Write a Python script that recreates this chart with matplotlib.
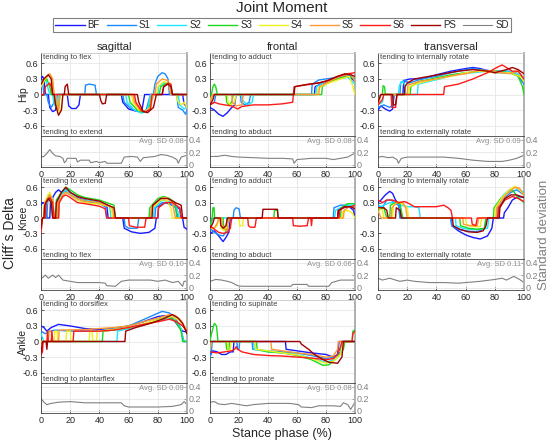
import matplotlib
matplotlib.use("Agg")
import matplotlib.pyplot as plt

plt.rcParams['font.family'] = ['Liberation Sans', 'DejaVu Sans']

# ---------------- data ----------------
series_names = ["BF", "S1", "S2", "S3", "S4", "S5", "S6", "PS"]
series_colors = ["#1a1aff", "#1a8cff", "#1ae6ff", "#1ad91a", "#f0f01a", "#ff9933", "#ff1a1a", "#a00000"]
sd_name = "SD"
sd_color = "#808080"

x_ticks = [0, 20, 40, 60, 80, 100]
x_tick_labels = ["0", "20", "40", "60", "80", "100"]
y_ticks = [-0.6, -0.3, 0, 0.3, 0.6]
y_tick_labels = ["-0.6", "-0.3", "0", "0.3", "0.6"]
sd_ticks = [0, 0.2, 0.4]
sd_tick_labels = ["0", "0.2", "0.4"]

row_names = ["Hip", "Knee", "Ankle"]
col_names = ["sagittal", "frontal", "transversal"]

hip_sag = {
    "BF": [(0,0.3),(1,0.35),(2,0.3),(3,0),(5,0),(6,-0.25),(8,-0.33),(10,-0.3),(11,0),(18,0),(19,-0.22),(21,-0.27),(24,-0.27),(26,-0.2),(27,0),(55,0),(56,-0.15),(60,-0.28),(65,-0.32),(69,-0.32),(71,0),(97,0),(98,-0.18),(100,-0.25)],
    "S1": [(0,0.22),(1,0.25),(2,0),(4,0),(5,-0.15),(7,-0.25),(9,-0.15),(10,0),(30,0),(30.5,0.18),(33,0.2),(37,0.18),(38,0),(56,0),(57,-0.15),(62,-0.28),(68,-0.34),(72,-0.3),(74,-0.1),(75,0),(77,0),(78,0.2),(80,0.35),(83,0.42),(85,0.4),(87,0.3),(88,0),(93,0),(94,-0.25),(97,-0.3),(99,-0.38),(100,-0.3)],
    "S2": [(0,0.25),(3,0.3),(5,0.1),(6,0),(8,0),(9,-0.2),(11,-0.25),(12,0),(58,0),(59,-0.15),(64,-0.3),(69,-0.36),(73,-0.3),(75,0),(80,0),(80.5,0.15),(84,0.22),(88,0.2),(89,0),(94,0),(95,-0.2),(98,-0.28),(100,-0.25)],
    "S3": [(0,0.2),(4,0.3),(6,0.15),(7,0),(9,0),(10,-0.2),(12,-0.28),(13,0),(60,0),(61,-0.15),(66,-0.3),(70,-0.34),(74,-0.28),(76,0),(81,0),(82,0.15),(86,0.22),(89,0.18),(90,0),(100,0)],
    "S4": [(0,0.15),(3,0.3),(6,0.4),(8,0.25),(9,0),(10,0),(11,-0.2),(13,-0.35),(14,-0.25),(15,0),(62,0),(63,-0.15),(67,-0.3),(71,-0.33),(75,-0.25),(76,0),(79,0),(80,0.15),(84,0.25),(88,0.22),(89,0),(93,0),(93.5,-0.12),(96,-0.2),(98,-0.15),(100,-0.25)],
    "S5": [(0,0.2),(3,0.33),(6,0.4),(8,0.3),(9,0),(10,0),(11,-0.2),(12,-0.3),(13,0),(63,0),(64,-0.15),(68,-0.3),(72,-0.33),(75,-0.25),(77,0),(78,0),(79,0.2),(83,0.3),(87,0.27),(89,0),(100,0)],
    "S6": [(0,0),(2,0),(3,0.15),(6,0.22),(7,0.15),(8,0),(64,0),(65,-0.15),(69,-0.32),(72,-0.33),(75,-0.28),(76,0),(83,0),(84,0.15),(87,0.22),(89,0.2),(90,0),(100,0)],
    "PS": [(0,0.2),(2,0.3),(5,0.38),(7,0.3),(8,0),(9,0),(10,-0.2),(12,-0.4),(14,-0.3),(15,0),(16,0),(16.5,0.15),(18,0.2),(19,0),(40,0),(41,-0.12),(42,-0.18),(44,-0.17),(45,0),(66,0),(67,-0.15),(70,-0.33),(73,-0.35),(77,-0.25),(79,0),(83,0),(84,0.15),(87,0.2),(89,0.15),(90,0),(100,0)],
}
hip_front = {
    "BF": [(0,-0.25),(3,-0.3),(6,-0.38),(9,-0.42),(12,-0.35),(15,-0.25),(17,-0.2),(18,0),(72,0),(72.5,0.15),(78,0.22),(85,0.28),(90,0.32),(95,0.35),(98,0.3),(100,0.25)],
    "S1": [(0,-0.2),(3,-0.15),(4,0),(21,0),(21.5,-0.15),(24,-0.2),(27,-0.15),(28,0),(70,0),(70.5,0.2),(75,0.28),(80,0.3),(85,0.32),(90,0.35),(95,0.38),(100,0.3)],
    "S2": [(0,-0.15),(2,0),(22,0),(22.5,-0.12),(26,-0.2),(29,-0.15),(30,0),(73,0),(73.5,0.15),(80,0.25),(88,0.3),(95,0.33),(100,0.2)],
    "S3": [(0,0),(1,0),(2,0.15),(3,0.2),(4,0.15),(5,0),(11,0),(11.5,-0.15),(13,-0.2),(15,-0.15),(16,0),(77,0),(77.5,0.15),(82,0.25),(90,0.32),(95,0.35),(100,0.3)],
    "S4": [(0,-0.1),(2,0),(12,0),(12.5,-0.15),(14,-0.2),(17,-0.15),(18,0),(74,0),(74.5,0.12),(80,0.2),(90,0.3),(96,0.35),(98,0.2),(100,0)],
    "S5": [(0,-0.15),(2,0),(15,0),(15.5,-0.15),(18,-0.22),(22,-0.2),(23,0),(75,0),(75.5,0.15),(82,0.25),(90,0.35),(97,0.4),(100,0.25)],
    "S6": [(0,-0.2),(3,-0.15),(6,-0.18),(10,-0.2),(15,-0.22),(19,-0.28),(22,-0.23),(30,-0.2),(40,-0.2),(50,-0.18),(57,-0.15),(58,0.15),(65,0.18),(70,0.2),(80,0.25),(88,0.35),(95,0.4),(100,0.42)],
    "PS": [(0,-0.2),(2,-0.1),(3,0),(58,0),(58.5,0.15),(62,0.17),(68,0.2),(75,0.22),(82,0.28),(88,0.35),(93,0.4),(97,0.38),(100,0.35)],
}
hip_trans = {
    "BF": [(0,-0.3),(2,-0.22),(5,-0.28),(8,-0.32),(10,-0.28),(11,0),(17,0),(17.5,0.2),(19,0.28),(22,0.3),(30,0.3),(40,0.38),(50,0.45),(60,0.5),(65,0.52),(70,0.5),(80,0.42),(90,0.42),(95,0.38),(100,0.25)],
    "S1": [(0,-0.25),(4,-0.2),(8,-0.25),(10,-0.2),(11,0),(15,0),(15.5,0.22),(18,0.28),(21,0.22),(30,0.3),(40,0.35),(50,0.42),(60,0.48),(65,0.5),(70,0.48),(80,0.45),(90,0.45),(95,0.38),(100,0.2)],
    "S2": [(0,-0.2),(3,-0.15),(4,0),(14,0),(14.5,0.15),(16,0.25),(18,0.22),(19,0),(27,0),(27.5,0.2),(35,0.25),(45,0.32),(55,0.4),(65,0.42),(75,0.45),(85,0.45),(95,0.42),(100,0.3)],
    "S3": [(0,-0.15),(2,0),(3,0),(3.5,0.17),(4.5,0.15),(5,0),(22,0),(22.5,0.15),(28,0.25),(40,0.32),(50,0.38),(60,0.42),(70,0.45),(80,0.45),(90,0.42),(96,0.35),(99,0.15),(100,0)],
    "S4": [(0,-0.18),(2,0),(21,0),(21.5,0.15),(28,0.22),(40,0.3),(50,0.35),(60,0.42),(70,0.45),(80,0.42),(90,0.42),(97,0.35),(100,0.25)],
    "S5": [(0,-0.2),(2,0),(20,0),(20.5,0.18),(28,0.25),(40,0.3),(50,0.36),(60,0.4),(70,0.47),(80,0.45),(90,0.4),(96,0.45),(100,0.3)],
    "S6": [(0,-0.2),(3,-0.1),(4,0),(9,0),(9.5,-0.25),(12,-0.25),(13,0),(45,0),(45.5,0.15),(55,0.2),(65,0.3),(75,0.42),(80,0.5),(85,0.57),(88,0.52),(92,0.45),(96,0.45),(100,0.3)],
    "PS": [(0,-0.15),(2,0),(10,0),(10.5,-0.2),(12,-0.2),(13,0),(18,0),(18.5,0.15),(20,0.22),(25,0.3),(35,0.35),(45,0.4),(55,0.45),(65,0.48),(75,0.45),(80,0.42),(88,0.48),(92,0.52),(96,0.48),(100,0.4)],
}
knee_sag = {
    "BF": [(0,0.25),(1,0.3),(3,0.3),(4,0),(6,0),(6.5,0.3),(8,0.4),(10,0.5),(12,0.55),(14,0.5),(17,0.58),(20,0.5),(25,0.4),(30,0.35),(40,0.3),(45,0.25),(46,0),(56,0),(57,-0.2),(62,-0.27),(68,-0.3),(74,-0.28),(78,-0.2),(79,0),(80,0),(80.5,0.22),(85,0.3),(90,0.25),(95,0.18),(96,0),(97,0),(98,-0.18),(100,-0.22)],
    "S1": [(0,0),(4,0),(4.5,0.3),(6,0.45),(8,0.4),(9,0),(12,0),(12.5,0.4),(15,0.5),(17,0.52),(20,0.45),(25,0.35),(30,0.32),(40,0.28),(44,0.22),(45,0),(57,0),(57.5,-0.15),(60,-0.2),(66,-0.2),(67,0),(78,0),(78.5,0.2),(83,0.3),(88,0.3),(92,0.2),(94,0),(100,0)],
    "S2": [(0,0),(3,0),(3.5,0.25),(6,0.4),(8,0.3),(9,0),(11,0),(11.5,0.35),(15,0.5),(17,0.55),(20,0.5),(25,0.38),(30,0.35),(40,0.3),(47,0.22),(48,0),(77,0),(77.5,0.2),(83,0.35),(88,0.32),(93,0.2),(95,0),(100,0)],
    "S3": [(0,0),(2,0),(2.5,0.25),(5,0.45),(7,0.35),(8,0),(10,0),(10.5,0.35),(14,0.5),(17,0.6),(20,0.55),(25,0.45),(30,0.4),(40,0.35),(50,0.25),(51,0),(74,0),(74.5,0.2),(80,0.38),(84,0.42),(88,0.38),(92,0.3),(93,0),(100,0)],
    "S4": [(0,0),(2,0),(2.5,0.3),(5,0.45),(6,0.5),(8,0.35),(9,0),(12,0),(12.5,0.3),(15,0.45),(17,0.5),(20,0.45),(25,0.35),(30,0.3),(40,0.27),(48,0.22),(49,0),(76,0),(76.5,0.2),(82,0.35),(86,0.35),(89,0.2),(90,0),(100,0)],
    "S5": [(0,0),(2,0),(2.5,0.3),(6,0.45),(8,0.35),(9,0),(11,0),(11.5,0.3),(15,0.45),(17,0.5),(20,0.45),(25,0.38),(30,0.33),(40,0.3),(49,0.2),(50,0),(75,0),(75.5,0.2),(82,0.38),(86,0.4),(90,0.3),(92,0),(100,0)],
    "S6": [(0,-0.3),(1,0),(3,0),(3.5,0.3),(6,0.4),(8,0.3),(9,0),(12,0),(12.5,0.3),(15,0.42),(17,0.45),(20,0.4),(25,0.3),(30,0.28),(40,0.23),(44,0.18),(45,0),(60,0),(60.5,-0.15),(65,-0.18),(71,-0.18),(72,0),(80,0),(80.5,0.2),(85,0.3),(90,0.3),(95,0.2),(96,0),(100,0)],
    "PS": [(0,-0.2),(1,0),(2,0),(2.5,0.25),(5,0.38),(7,0.3),(8,0),(10,0),(10.5,0.3),(14,0.5),(17,0.6),(20,0.5),(25,0.42),(30,0.38),(40,0.33),(46,0.25),(50,0.2),(51,0),(76,0),(76.5,0.25),(82,0.38),(87,0.38),(92,0.3),(96,0.25),(97,0),(100,0)],
}
knee_front = {
    "BF": [(0,-0.3),(3,-0.25),(6,-0.35),(9,-0.46),(11,-0.38),(13,-0.28),(14,0),(88,0),(88.5,0.15),(92,0.2),(96,0.22),(99,0.15),(100,0)],
    "S1": [(0,-0.2),(3,-0.28),(6,-0.33),(9,-0.35),(11,-0.28),(12,0),(16,0),(16.5,0.15),(18,0.2),(20,0.18),(21,0),(85,0),(85.5,0.2),(90,0.25),(95,0.25),(100,0.2)],
    "S2": [(0,-0.2),(2,0),(86,0),(86.5,0.15),(90,0.2),(95,0.25),(100,0.25)],
    "S3": [(0,-0.15),(1.5,0),(2,0.2),(2.8,0.2),(3.2,0),(9,0),(9.5,-0.2),(11,-0.25),(12,0),(44,0),(44.5,0.15),(46.5,0.15),(47,0),(90,0),(90.5,0.2),(95,0.28),(100,0.28)],
    "S4": [(0,-0.2),(3,-0.2),(5,-0.15),(6,0),(7,0),(7.5,-0.2),(10,-0.25),(12,-0.15),(13,0),(20,0),(20.5,-0.15),(22.5,-0.15),(23,0),(91,0),(91.5,0.12),(95,0.15),(98,0.1),(100,0)],
    "S5": [(0,-0.18),(3,-0.2),(5,-0.1),(6,0),(8,0),(8.5,-0.15),(10,-0.2),(12,-0.25),(13,0),(92,0),(92.5,0.15),(96,0.22),(100,0.2)],
    "S6": [(0,-0.15),(3,-0.22),(6,-0.28),(9,-0.3),(12,-0.28),(14,-0.2),(15,0),(26,0),(26.5,-0.15),(28,-0.18),(31,-0.18),(32,0),(57,0),(57.5,-0.15),(62,-0.16),(67,-0.15),(68,0),(69.5,0),(70,-0.15),(70.5,0),(89,0),(89.5,0.15),(93,0.22),(97,0.22),(100,0.25)],
    "PS": [(0,-0.2),(2,-0.1),(3,0),(7,0),(7.5,-0.15),(9,-0.2),(11,-0.15),(12,0),(36,0),(36.5,0.17),(44,0.17),(46.5,0.17),(47,0),(88,0),(88.5,0.15),(93,0.22),(97,0.22),(100,0.18)],
}
knee_trans = {
    "BF": [(0,0.3),(2,0.35),(5,0.45),(8,0.52),(10,0.48),(12,0.35),(15,0.25),(16,0),(50,0),(50.5,-0.15),(55,-0.25),(60,-0.33),(65,-0.38),(70,-0.41),(75,-0.35),(78,-0.2),(79,0),(86,0),(86.5,0.1),(89,0.2),(92,0.35),(96,0.42),(100,0.4)],
    "S1": [(0,0.25),(3,0.2),(6,0.35),(9,0.35),(12,0.28),(14,0.25),(15,0),(50,0),(50.5,-0.15),(55,-0.22),(60,-0.25),(66,-0.27),(70,-0.25),(73,-0.2),(74,0),(82,0),(82.5,0.2),(87,0.4),(91,0.5),(95,0.55),(100,0.45)],
    "S2": [(0,0.2),(4,0.25),(8,0.3),(12,0.3),(16,0.25),(20,0.22),(25,0.22),(28,0.2),(29,0),(53,0),(53.5,-0.15),(58,-0.2),(65,-0.23),(70,-0.22),(75,-0.2),(76,0),(81,0),(81.5,0.25),(86,0.45),(90,0.55),(94,0.6),(100,0.5)],
    "S3": [(0,0.15),(4,0.2),(6,0),(8,0),(8.5,0.25),(12,0.3),(15,0.28),(17,0),(56,0),(56.5,-0.15),(62,-0.2),(68,-0.22),(73,-0.2),(74,0),(79,0),(79.5,0.2),(84,0.38),(88,0.48),(92,0.55),(96,0.4),(100,0.3)],
    "S4": [(0,0.2),(3,0.15),(4,0),(10,0),(10.5,0.25),(14,0.32),(18,0.25),(20,0.2),(21,0),(60,0),(60.5,-0.12),(65,-0.17),(70,-0.17),(71,0),(80,0),(80.5,0.2),(85,0.4),(90,0.55),(94,0.62),(97,0.55),(100,0.45)],
    "S5": [(0,0.15),(2,0),(9,0),(9.5,0.2),(13,0.3),(17,0.3),(19,0.2),(20,0),(58,0),(58.5,-0.12),(62,-0.15),(68,-0.15),(69,0),(81,0),(81.5,0.2),(86,0.4),(90,0.52),(94,0.6),(97,0.58),(100,0.45)],
    "S6": [(0,0.35),(3,0.3),(6,0.35),(10,0.35),(14,0.3),(18,0.32),(20,0.3),(25,0.22),(35,0.22),(40,0.22),(45,0.25),(48,0.2),(50,0.15),(51,0),(64,0),(64.5,-0.12),(67,-0.15),(68,0),(82,0),(82.5,0.2),(87,0.35),(92,0.42),(96,0.38),(100,0.32)],
    "PS": [(0,0.2),(4,0.2),(6,0.15),(7,0),(12,0),(12.5,0.2),(15,0.15),(16,0),(51,0),(51.5,-0.15),(56,-0.22),(62,-0.27),(68,-0.28),(72,-0.25),(74,-0.15),(75,0),(83,0),(83.5,0.2),(87,0.38),(91,0.45),(95,0.45),(100,0.4)],
}
ankle_sag = {
    "BF": [(0,0.3),(2,0.27),(4,0.2),(7,0.27),(12,0.33),(20,0.3),(30,0.25),(40,0.23),(50,0.25),(60,0.3),(70,0.38),(80,0.48),(85,0.5),(90,0.45),(94,0.3),(97,0.2),(100,0.18)],
    "S1": [(0,0.2),(3,0.15),(6,0.2),(10,0.22),(20,0.2),(30,0.2),(40,0.2),(50,0.25),(60,0.3),(70,0.42),(78,0.52),(83,0.58),(88,0.55),(92,0.45),(95,0.3),(97,0.1),(98,0),(100,0)],
    "S2": [(0,0.15),(2,0),(52,0),(52.5,0.2),(60,0.25),(70,0.32),(80,0.4),(88,0.45),(92,0.4),(96,0.25),(97.5,0),(100,0)],
    "S3": [(0,0),(42,0),(42.5,0.2),(50,0.22),(60,0.27),(70,0.33),(80,0.42),(87,0.48),(92,0.4),(96,0.2),(97,0),(100,0)],
    "S4": [(0,0),(9,0),(9.5,0.2),(11,0.2),(11.5,0),(17,0),(17.5,0.2),(20,0.2),(20.5,0),(33,0),(33.5,0.2),(35,0.2),(35.5,0),(38,0),(38.5,0.2),(45,0.22),(55,0.25),(65,0.3),(75,0.38),(85,0.45),(90,0.48),(95,0.4),(98,0.3),(100,0.2)],
    "S5": [(0,-0.1),(1,0),(5,0),(5.5,0.2),(7,0.2),(7.5,0),(12,0),(12.5,0.22),(30,0.23),(40,0.25),(50,0.27),(60,0.3),(70,0.38),(80,0.45),(88,0.52),(92,0.5),(96,0.4),(100,0.2)],
    "S6": [(0,-0.25),(1,-0.2),(1.5,0),(4,0),(4.5,0.2),(5,0),(7,0),(7.5,0.2),(8,0),(22,0),(22.5,0.2),(30,0.2),(40,0.2),(50,0.22),(60,0.27),(70,0.33),(80,0.38),(88,0.43),(93,0.38),(97,0.3),(100,0.2)],
    "PS": [(0,-0.25),(1,0),(3.5,0),(4,-0.15),(4.5,0),(57.5,0),(58,0.2),(65,0.27),(75,0.35),(85,0.45),(90,0.52),(94,0.45),(97,0.35),(100,0.15)],
}
ankle_front = {
    "BF": [(0,-0.28),(2,-0.18),(5,-0.2),(8,-0.25),(11,-0.25),(14,-0.2),(16,-0.2),(16.5,0),(52,0),(52.5,-0.15),(60,-0.18),(70,-0.22),(80,-0.25),(85,-0.3),(88,-0.25),(89,0),(100,0)],
    "S1": [(0,-0.3),(1,-0.2),(1.5,0),(18.5,0),(19,-0.15),(20,-0.15),(20.5,0),(29,0),(29.5,-0.15),(40,-0.18),(50,-0.2),(60,-0.22),(70,-0.27),(80,-0.33),(86,-0.3),(90,-0.2),(91,0),(100,0)],
    "S2": [(0,-0.2),(1,0),(30,0),(30.5,-0.15),(40,-0.2),(50,-0.22),(60,-0.25),(70,-0.32),(80,-0.4),(86,-0.35),(90,-0.25),(91,0),(100,0)],
    "S3": [(0,0),(1,0.15),(3,0.35),(4.5,0.3),(5.5,0),(11,0),(11.5,-0.15),(13,-0.15),(13.5,0),(32,0),(32.5,-0.15),(40,-0.2),(50,-0.22),(60,-0.27),(70,-0.35),(78,-0.46),(82,-0.45),(88,-0.3),(92,-0.15),(93,0),(98,0),(98.5,0.2),(100,0.22)],
    "S4": [(0,0),(12,0),(12.5,-0.18),(14,-0.18),(14.5,0),(31,0),(31.5,-0.15),(40,-0.18),(50,-0.22),(60,-0.26),(70,-0.33),(80,-0.42),(85,-0.38),(90,-0.25),(92,0),(100,0)],
    "S5": [(0,-0.15),(1,0),(42,0),(42.5,-0.15),(50,-0.18),(60,-0.22),(70,-0.25),(80,-0.3),(85,-0.28),(88,-0.15),(88.5,0),(100,0)],
    "S6": [(0,-0.2),(5,-0.22),(10,-0.2),(15,-0.18),(17,-0.15),(18,-0.1),(19,-0.15),(22,-0.2),(30,-0.25),(40,-0.27),(50,-0.28),(60,-0.3),(70,-0.32),(80,-0.35),(85,-0.33),(88,-0.25),(90,-0.1),(91,0),(98,0),(98.5,0.15),(100,0.2)],
    "PS": [(0,0),(62,0),(63,-0.05),(68,-0.15),(72,-0.25),(78,-0.35),(82,-0.4),(88,-0.42),(91,-0.3),(92,0),(100,0)],
}

hip_sag_sd = [(0,0.12),(2,0.13),(4,0.18),(6,0.24),(8,0.18),(10,0.14),(13,0.13),(15,0.1),(16,0.03),(17,0.05),(18,0.1),(24,0.1),(25,0.04),(27,0.07),(33,0.07),(34,0.03),(38,0.05),(40,0.03),(44,0.05),(45,0.02),(55,0.02),(57,0.12),(62,0.13),(66,0.12),(68,0.05),(70,0.11),(78,0.13),(82,0.16),(86,0.15),(90,0.12),(93,0.08),(94,0.02),(96,0.12),(100,0.15)]
hip_front_sd = [(0,0.13),(5,0.13),(10,0.15),(15,0.13),(20,0.12),(30,0.11),(40,0.1),(50,0.1),(57,0.09),(58,0.02),(60,0.08),(70,0.1),(80,0.1),(85,0.08),(90,0.1),(95,0.12),(98,0.16),(100,0.18)]
hip_trans_sd = [(0,0.12),(3,0.13),(7,0.11),(10,0.12),(13,0.08),(14,0.02),(16,0.1),(20,0.12),(30,0.12),(45,0.12),(55,0.1),(65,0.07),(75,0.05),(85,0.05),(90,0.07),(95,0.1),(100,0.15)]
knee_sag_sd = [(0,0.14),(3,0.2),(5,0.15),(8,0.2),(10,0.16),(12,0.2),(15,0.12),(20,0.1),(25,0.08),(40,0.08),(44,0.07),(45,0.03),(51,0.02),(55,0.1),(60,0.12),(75,0.12),(80,0.1),(85,0.12),(90,0.08),(94,0.1),(97,0.02),(98,0.1),(100,0.1)]
knee_front_sd = [(0,0.1),(4,0.13),(8,0.12),(12,0.1),(15,0.08),(19,0.03),(22,0.02),(40,0.02),(56,0.02),(57,0.05),(67,0.05),(68,0.02),(82,0.02),(84,0.08),(90,0.12),(100,0.12)]
knee_trans_sd = [(0,0.15),(3,0.12),(8,0.15),(12,0.12),(15,0.1),(20,0.12),(25,0.1),(35,0.08),(45,0.08),(55,0.07),(60,0.08),(70,0.1),(80,0.13),(85,0.15),(88,0.12),(93,0.18),(97,0.13),(100,0.08)]
ankle_sag_sd = [(0,0.2),(2,0.14),(4,0.1),(7,0.12),(12,0.14),(20,0.15),(30,0.13),(45,0.13),(55,0.13),(57,0.08),(60,0.06),(70,0.06),(80,0.06),(90,0.07),(96,0.1),(98,0.15),(100,0.1)]
ankle_front_sd = [(0,0.14),(3,0.15),(6,0.11),(10,0.1),(15,0.12),(20,0.1),(25,0.08),(30,0.1),(40,0.12),(55,0.12),(61,0.1),(63,0.06),(70,0.05),(75,0.08),(85,0.08),(90,0.07),(92,0.13),(95,0.1),(97,0.02),(99,0.1),(100,0.15)]

avg_sd = [["0.08", "0.08", "0.09"], ["0.10", "0.06", "0.11"], ["0.09", "0.08", None]]
top_texts = [["tending to flex", "tending to adduct", "tending to internally rotate"],
             ["tending to extend", "tending to adduct", "tending to internally rotate"],
             ["tending to dorsiflex", "tending to supinate", None]]
bottom_texts = [["tending to extend", "tending to abduct", "tending to externally rotate"],
                ["tending to flex", "tending to abduct", "tending to externally rotate"],
                ["tending to plantarflex", "tending to pronate", None]]

panel_data = [[hip_sag, hip_front, hip_trans], [knee_sag, knee_front, knee_trans], [ankle_sag, ankle_front, None]]
panel_sd = [[hip_sag_sd, hip_front_sd, hip_trans_sd], [knee_sag_sd, knee_front_sd, knee_trans_sd], [ankle_sag_sd, ankle_front_sd, None]]

# ---------------- layout (pixels) ----------------
W, H = 550, 442
col_px = [(41, 187), (210, 355), (378, 524)]
row_px = [(53, 136, 167), (177, 259, 290), (300, 383, 413)]

fig = plt.figure(figsize=(W / 100, H / 100), dpi=100)

def fa(l, t, r, b):
    return [l / W, 1 - b / H, (r - l) / W, (b - t) / H]

dark = "#262626"
grid_c = "#e6e6e6"
legend_handles = []

for ri in range(3):
    t, m, b = row_px[ri]
    fig.text(23 / W, 1 - ((t + m) / 2) / H, row_names[ri], rotation=90, ha="center", va="center",
             fontsize=7.5, color=dark)
    for ci in range(3):
        data = panel_data[ri][ci]
        if data is None:
            continue
        l, r = col_px[ci]
        ax = fig.add_axes(fa(l, t, r, m))
        sd_ax = fig.add_axes(fa(l, m, r, b))
        for name, color in zip(series_names, series_colors):
            pts = data[name]
            ln, = ax.plot([p[0] for p in pts], [p[1] for p in pts], color=color, lw=1.0, label=name, zorder=3)
            if ri == 0 and ci == 0:
                legend_handles.append(ln)
        ax.set_xlim(0, 100)
        ax.set_ylim(-0.8, 0.8)
        ax.set_xticks(x_ticks)
        ax.set_xticklabels([])
        ax.set_yticks(y_ticks)
        ax.set_yticklabels(y_tick_labels)
        ax.grid(True, color=grid_c, lw=0.6)
        ax.set_axisbelow(True)
        ax.tick_params(direction="in", length=2, width=0.5, labelsize=6.5, colors=dark, pad=2)
        ax.tick_params(axis="x", length=0)
        for s in ["left", "top", "bottom"]:
            ax.spines[s].set_color("#404040")
            ax.spines[s].set_linewidth(0.6)
        ax.spines["top"].set_color("#c8c8c8")
        ax.spines["right"].set_color("#b0b0b0")
        ax.spines["right"].set_linewidth(1.4)
        ax.text(0.015, 0.985, top_texts[ri][ci], transform=ax.transAxes, va="top", ha="left",
                fontsize=5.5, color="#404040")
        ax.text(0.015, 0.005, bottom_texts[ri][ci], transform=ax.transAxes, va="bottom", ha="left",
                fontsize=5.5, color="#404040")
        if ri == 0:
            ax.set_title(col_names[ci], fontsize=8, color=dark, pad=2)

        sd = panel_sd[ri][ci]
        sdl, = sd_ax.plot([p[0] for p in sd], [p[1] for p in sd], color=sd_color, lw=0.8, label=sd_name)
        if ri == 0 and ci == 0:
            legend_handles.append(sdl)
        sd_ax.set_xlim(0, 100)
        sd_ax.set_ylim(-0.04, 0.46)
        sd_ax.set_xticks(x_ticks)
        sd_ax.set_xticklabels(x_tick_labels)
        sd_ax.yaxis.tick_right()
        sd_ax.set_yticks(sd_ticks)
        sd_ax.set_yticklabels(sd_tick_labels)
        sd_ax.grid(True, color=grid_c, lw=0.6)
        sd_ax.set_axisbelow(True)
        sd_ax.tick_params(axis="x", direction="in", length=2, width=0.5, labelsize=6.5, colors=dark, pad=2)
        sd_ax.tick_params(axis="y", direction="in", length=2, width=0.5, labelsize=6.5, colors="#808080", pad=1)
        for s in ["left", "top", "bottom"]:
            sd_ax.spines[s].set_color("#404040")
            sd_ax.spines[s].set_linewidth(0.6)
        sd_ax.spines["right"].set_color("#b0b0b0")
        sd_ax.spines["right"].set_linewidth(1.4)
        sd_ax.text(0.98, 0.93, "Avg. SD " + avg_sd[ri][ci], transform=sd_ax.transAxes, va="top", ha="right",
                   fontsize=5.5, color="#909090")

fig.text(282 / W, 1 - 8 / H, "Joint Moment", ha="center", va="center", fontsize=11, color=dark)
fig.text(10 / W, 1 - 233 / H, "Cliff\u00b4s Delta", ha="center", va="center", rotation=90, fontsize=10, color=dark)
fig.text(544 / W, 1 - 235 / H, "Standard deviation", ha="center", va="center", rotation=90, fontsize=9.5, color="#808080")
fig.text(282 / W, 1 - 434 / H, "Stance phase (%)", ha="center", va="center", fontsize=9, color=dark)

leg = fig.legend(handles=legend_handles, labels=series_names + [sd_name], loc="center",
                 bbox_to_anchor=(282 / W, 1 - 25 / H), ncol=9, fontsize=7, frameon=True,
                 fancybox=False, handlelength=3.0, handletextpad=0.3, columnspacing=0.7,
                 borderpad=0.25, edgecolor="#606060")
leg.get_frame().set_linewidth(0.8)
for txt in leg.get_texts():
    txt.set_color(dark)

fig.savefig("out.png", dpi=100)
